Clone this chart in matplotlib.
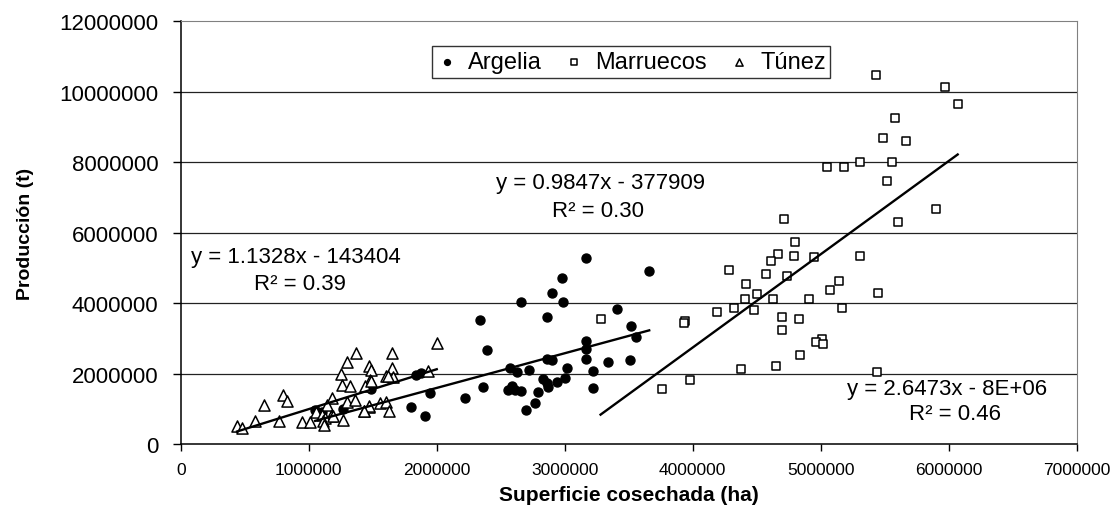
import matplotlib
matplotlib.use("Agg")
import matplotlib.pyplot as plt
import numpy as np

plt.rcParams['font.family'] = ['Liberation Sans', 'DejaVu Sans']

# Argelia (superficie ha, produccion t)
arg_x = [3.17e6, 3.66e6, 2.98e6, 2.90e6, 2.66e6, 2.99e6, 3.41e6, 2.86e6, 2.34e6, 3.52e6,
         3.56e6, 3.17e6, 2.39e6, 3.17e6, 2.86e6, 2.90e6, 3.17e6, 3.34e6, 3.51e6, 2.57e6,
         2.63e6, 2.72e6, 3.02e6, 3.22e6, 2.83e6, 2.86e6, 2.94e6, 3.00e6, 2.87e6, 2.36e6,
         2.59e6, 2.56e6, 2.61e6, 2.66e6, 2.79e6, 3.22e6, 1.95e6, 2.22e6, 2.77e6, 2.70e6,
         1.80e6, 1.91e6, 1.84e6, 1.88e6, 1.49e6, 1.05e6, 1.27e6, 1.10e6]
arg_y = [5.27e6, 4.90e6, 4.70e6, 4.30e6, 4.04e6, 4.04e6, 3.82e6, 3.61e6, 3.53e6, 3.36e6,
         3.03e6, 2.92e6, 2.67e6, 2.70e6, 2.41e6, 2.38e6, 2.41e6, 2.32e6, 2.39e6, 2.17e6,
         2.04e6, 2.10e6, 2.15e6, 2.06e6, 1.85e6, 1.73e6, 1.75e6, 1.88e6, 1.63e6, 1.63e6,
         1.66e6, 1.53e6, 1.54e6, 1.50e6, 1.48e6, 1.59e6, 1.45e6, 1.31e6, 1.16e6, 0.96e6,
         1.06e6, 0.80e6, 1.97e6, 2.02e6, 1.56e6, 0.97e6, 0.99e6, 0.90e6]

# Marruecos
mar_x = [5.43e6, 5.97e6, 6.07e6, 5.58e6, 5.49e6, 5.67e6, 5.05e6, 5.18e6, 5.31e6, 5.56e6,
         5.52e6, 5.90e6, 5.60e6, 4.71e6, 4.80e6, 4.67e6, 4.61e6, 4.79e6, 4.95e6, 5.31e6,
         4.28e6, 4.57e6, 4.74e6, 4.42e6, 5.14e6, 5.07e6, 5.45e6, 4.50e6, 4.41e6, 4.63e6,
         4.91e6, 4.32e6, 4.48e6, 5.17e6, 4.19e6, 4.70e6, 4.83e6, 3.94e6, 3.93e6, 4.70e6,
         5.01e6, 4.96e6, 5.02e6, 4.84e6, 4.38e6, 4.65e6, 5.44e6, 3.98e6, 3.76e6, 3.28e6]
mar_y = [10.48e6, 10.13e6, 9.65e6, 9.26e6, 8.69e6, 8.61e6, 7.86e6, 7.86e6, 8.00e6, 8.00e6,
         7.46e6, 6.66e6, 6.31e6, 6.38e6, 5.73e6, 5.38e6, 5.19e6, 5.34e6, 5.30e6, 5.34e6,
         4.94e6, 4.83e6, 4.76e6, 4.54e6, 4.62e6, 4.36e6, 4.29e6, 4.25e6, 4.12e6, 4.12e6,
         4.12e6, 3.87e6, 3.80e6, 3.87e6, 3.76e6, 3.61e6, 3.54e6, 3.50e6, 3.44e6, 3.25e6,
         2.97e6, 2.89e6, 2.83e6, 2.53e6, 2.14e6, 2.21e6, 2.04e6, 1.82e6, 1.56e6, 3.54e6]

# Tunez
tun_x = [2.00e6, 1.37e6, 1.65e6, 1.30e6, 1.47e6, 1.49e6, 1.65e6, 1.25e6, 1.93e6, 1.60e6,
         1.66e6, 1.48e6, 1.26e6, 1.32e6, 1.44e6, 0.80e6, 0.83e6, 0.65e6, 1.18e6, 1.30e6,
         1.36e6, 1.14e6, 1.56e6, 1.60e6, 1.47e6, 1.43e6, 1.63e6, 1.06e6, 1.10e6, 1.17e6,
         1.13e6, 1.27e6, 0.95e6, 1.01e6, 1.11e6, 1.12e6, 0.77e6, 0.58e6, 0.44e6, 0.48e6,
         1.19e6, 1.49e6, 1.62e6, 1.47e6, 1.43e6]
tun_y = [2.86e6, 2.58e6, 2.58e6, 2.32e6, 2.22e6, 2.11e6, 2.15e6, 2.00e6, 2.08e6, 1.92e6,
         1.89e6, 1.83e6, 1.68e6, 1.66e6, 1.66e6, 1.40e6, 1.21e6, 1.12e6, 1.31e6, 1.20e6,
         1.25e6, 1.11e6, 1.15e6, 1.18e6, 1.04e6, 0.93e6, 0.93e6, 0.90e6, 0.83e6, 0.80e6,
         0.74e6, 0.69e6, 0.63e6, 0.63e6, 0.66e6, 0.55e6, 0.65e6, 0.64e6, 0.52e6, 0.45e6,
         0.80e6, 1.80e6, 1.94e6, 1.09e6, 0.93e6]

# trend lines (slope, intercept) and labels
arg_fit = (0.9847, -377909)
mar_fit = (2.6473, -7.85e6)
tun_fit = (1.1328, -143404)
arg_eq = ["y = 0.9847x - 377909", "R² = 0.30"]
mar_eq = ["y = 2.6473x - 8E+06", "R² = 0.46"]
tun_eq = ["y = 1.1328x - 143404", "R² = 0.39"]

x_ticks = [0, 1000000, 2000000, 3000000, 4000000, 5000000, 6000000, 7000000]
y_ticks = [0, 2000000, 4000000, 6000000, 8000000, 10000000, 12000000]

fig = plt.figure(figsize=(11.13, 5.06), dpi=100)
ax = fig.add_axes([0.1624, 0.1206, 0.8050, 0.8353])

ax.set_xlim(0, 7000000)
ax.set_ylim(0, 12000000)
ax.set_xticks(x_ticks)
ax.set_yticks(y_ticks)
ax.set_xticklabels([str(v) for v in x_ticks], fontsize=12.5)
ax.set_yticklabels([str(v) for v in y_ticks], fontsize=16)
ax.tick_params(axis='y', length=6, pad=10, width=1)
ax.tick_params(axis='x', length=5, pad=8, width=1)

for v in y_ticks[1:-1]:
    ax.axhline(v, color='#222222', lw=0.9, zorder=1)
ax.spines['top'].set_color('#808080')
ax.spines['right'].set_color('#808080')
ax.spines['left'].set_linewidth(1.1)
ax.spines['bottom'].set_linewidth(1.1)

h1 = ax.scatter(arg_x, arg_y, s=42, marker='o', color='black', zorder=3, label='Argelia')
h2 = ax.scatter(mar_x, mar_y, s=32, marker='s', facecolor='white', edgecolor='black',
                linewidth=1.1, zorder=3, label='Marruecos')
h3 = ax.scatter(tun_x, tun_y, s=64, marker='^', facecolor='white', edgecolor='black',
                linewidth=1.1, zorder=3, label='Túnez')

for xs, fit in [(arg_x, arg_fit), (mar_x, mar_fit), (tun_x, tun_fit)]:
    xx = np.array([min(xs), max(xs)])
    ax.plot(xx, fit[0] * xx + fit[1], color='black', lw=1.7, zorder=4)

ax.text(3.28e6, 7.41e6, arg_eq[0], fontsize=16, ha='center', va='center')
ax.text(3.26e6, 6.62e6, arg_eq[1], fontsize=16, ha='center', va='center')
ax.text(0.90e6, 5.31e6, tun_eq[0], fontsize=16, ha='center', va='center')
ax.text(0.93e6, 4.57e6, tun_eq[1], fontsize=16, ha='center', va='center')
ax.text(5.99e6, 1.57e6, mar_eq[0], fontsize=16, ha='center', va='center')
ax.text(6.05e6, 0.87e6, mar_eq[1], fontsize=16, ha='center', va='center')

leg = ax.legend(handles=[h1, h2, h3], loc='center', bbox_to_anchor=(0.5026, 0.904),
                ncol=3, fontsize=17, frameon=True, fancybox=False, borderpad=0.2,
                handlelength=0.9, handletextpad=0.45, columnspacing=0.9,
                markerscale=0.65, borderaxespad=0)
leg.get_frame().set_edgecolor('black')
leg.get_frame().set_linewidth(1.0)

ax.set_xlabel('Superficie cosechada (ha)', fontsize=15, fontweight='bold', labelpad=6)
ax.set_ylabel('Producción (t)', fontsize=14, fontweight='bold', labelpad=18)

plt.savefig('out.png', dpi=100)
